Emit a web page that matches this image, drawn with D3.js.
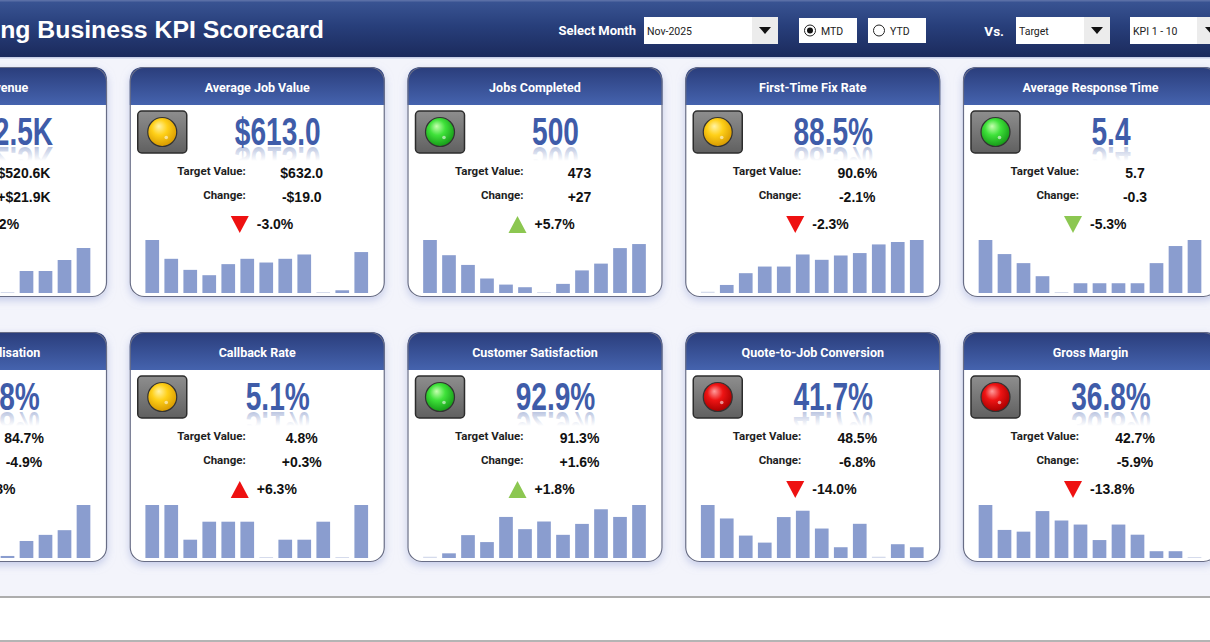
<!DOCTYPE html>
<html>
<head>
<meta charset="utf-8">
<script src="https://cdn.jsdelivr.net/npm/d3@7"></script>
<style>
html, body { margin: 0; padding: 0; background: #fff; overflow: hidden; }
svg { display: block; font-family: Roboto, "Liberation Sans", sans-serif; }
.lbl { font-size: 11.5px; font-weight: 700; fill: #1e1e1e; }
.val { font-size: 14px; font-weight: 700; fill: #111; font-family: "Liberation Sans", Arial, sans-serif; }
</style>
</head>
<body>
<svg id="board" width="1210" height="642"></svg>
<script>
// KPI cards, read left to right, top row first
var kpiNames = ["Monthly Revenue", "Average Job Value", "Jobs Completed", "First-Time Fix Rate", "Average Response Time",
                "Technician Utilisation", "Callback Rate", "Customer Satisfaction", "Quote-to-Job Conversion", "Gross Margin"];
var actualText = ["$542.5K", "$613.0", "500", "88.5%", "5.4", "79.8%", "5.1%", "92.9%", "41.7%", "36.8%"];
var targetText = ["$520.6K", "$632.0", "473", "90.6%", "5.7", "84.7%", "4.8%", "91.3%", "48.5%", "42.7%"];
var changeText = ["+$21.9K", "-$19.0", "+27", "-2.1%", "-0.3", "-4.9%", "+0.3%", "+1.6%", "-6.8%", "-5.9%"];
var changePct = [4.2, -3.0, 5.7, -2.3, -5.3, -5.8, 6.3, 1.8, -14.0, -13.8];
var lampColour = ["green", "yellow", "green", "yellow", "green", "red", "yellow", "green", "red", "red"];
var lowerIsBetter = [false, false, false, false, true, false, true, false, false, false];

// monthly trend bars (no axis on the picture, so relative heights)
var months = ["Jan", "Feb", "Mar", "Apr", "May", "Jun", "Jul", "Aug", "Sep", "Oct", "Nov", "Dec"];
var trendRevenue = [53, 40, 31, 19, 12, 8, 5, 1, 22, 22, 33, 45];
var trendJobValue = [52.7, 34, 23, 17.7, 28.7, 34, 30.3, 34, 38.3, 0.8, 2.7, 40.7];
var trendJobs = [52.3, 37.3, 27.7, 14.3, 8.3, 5.7, 0.7, 9, 22.3, 29, 44.3, 48.3];
var trendFixRate = [1.3, 8, 19.7, 26.3, 26.3, 38.3, 33, 37.3, 39.7, 48.3, 50.7, 52.7];
var trendResponse = [52.7, 38.7, 29.7, 16.7, 1, 9.7, 9.7, 9.7, 9.7, 29.7, 46.7, 52.7];
var trendUtilisation = [38, 45, 30, 24, 12, 20, 9, 2, 16.7, 22.7, 27.3, 52];
var trendCallback = [53, 53, 18.3, 36.3, 36.3, 36.3, 1, 18.3, 18.3, 36.3, 1, 53];
var trendSatisfaction = [1.3, 4.7, 23, 16, 41.3, 29, 36.7, 23.3, 34.3, 49, 41.3, 53.3];
var trendConversion = [52.7, 39.3, 22.3, 15.3, 40.7, 47, 29.3, 10.7, 34, 1.3, 13.7, 10.7];
var trendMargin = [52.3, 27.7, 26, 46.3, 37, 33, 17.7, 33, 23, 6.7, 6.7, 1];
var trends = [trendRevenue, trendJobValue, trendJobs, trendFixRate, trendResponse,
              trendUtilisation, trendCallback, trendSatisfaction, trendConversion, trendMargin];

var svg = d3.select("#board");
var defs = svg.append("defs");

function vGrad(id, stops) {
	var g = defs.append("linearGradient").attr("id", id).attr("x1", 0).attr("y1", 0).attr("x2", 0).attr("y2", 1);
	stops.forEach(function(s){ g.append("stop").attr("offset", s[0]).attr("stop-color", s[1]); });
}
vGrad("bandGrad", [[0, "#3a5594"], [0.45, "#283f7b"], [1, "#1b2a5c"]]);
vGrad("headGrad", [[0, "#2a3d7b"], [1, "#4563ae"]]);
vGrad("lampBox", [[0, "#8e8e8e"], [1, "#606060"]]);

var lampStops = {
	yellow: ["#fff3a6", "#ffd018", "#d89a00"],
	green: ["#c6ffb0", "#3fe23a", "#169a18"],
	red: ["#ff9c9c", "#ee1414", "#a80000"]
};
Object.keys(lampStops).forEach(function(k){
	var rg = defs.append("radialGradient").attr("id", "lamp-" + k).attr("cx", "45%").attr("cy", "40%").attr("r", "60%").attr("fx", "38%").attr("fy", "30%");
	rg.append("stop").attr("offset", 0).attr("stop-color", lampStops[k][0]);
	rg.append("stop").attr("offset", 0.45).attr("stop-color", lampStops[k][1]);
	rg.append("stop").attr("offset", 1).attr("stop-color", lampStops[k][2]);
});

// fading reflection under the big numbers, in the flipped text's own space
var refl = defs.append("linearGradient").attr("id", "reflect").attr("gradientUnits", "userSpaceOnUse")
	.attr("x1", 0).attr("y1", 0).attr("x2", 0).attr("y2", -14);
refl.append("stop").attr("offset", 0).attr("stop-color", "#3f5ca9").attr("stop-opacity", 0.35);
refl.append("stop").attr("offset", 1).attr("stop-color", "#3f5ca9").attr("stop-opacity", 0);

var shadow = defs.append("filter").attr("id", "shadow").attr("x", "-10%").attr("y", "-10%").attr("width", "120%").attr("height", "125%");
shadow.append("feDropShadow").attr("dx", 0).attr("dy", 3).attr("stdDeviation", 4)
	.attr("flood-color", "#9aa6d8").attr("flood-opacity", 0.55);

// page background
svg.append("rect").attr("y", 57).attr("width", 1210).attr("height", 540).attr("fill", "#f3f4fb");
svg.append("rect").attr("y", 57).attr("width", 1210).attr("height", 1.5).attr("fill", "#c8cee6");
svg.append("rect").attr("y", 596).attr("width", 1210).attr("height", 2).attr("fill", "#adadad");
svg.append("rect").attr("y", 640).attr("width", 1210).attr("height", 2).attr("fill", "#b4b4b4");

// title band
var head = svg.append("g");
head.append("rect").attr("width", 1210).attr("height", 57).attr("fill", "url(#bandGrad)");
head.append("rect").attr("width", 1210).attr("height", 1.5).attr("fill", "#5a6fa6");
head.append("text").attr("x", 324).attr("y", 38).attr("text-anchor", "end")
	.attr("font-family", "'Liberation Sans', Arial, sans-serif")
	.attr("font-size", 24.8).attr("font-weight", 700).attr("fill", "#fff").text("Plumbing Business KPI Scorecard");
head.append("text").attr("x", 636).attr("y", 35).attr("text-anchor", "end")
	.attr("font-size", 13).attr("font-weight", 700).attr("fill", "#fff").text("Select Month");
head.append("text").attr("x", 1004).attr("y", 36).attr("text-anchor", "end")
	.attr("font-size", 13.5).attr("font-weight", 700).attr("fill", "#fff").text("Vs.");

function dropdown(x, w, arrowW, label) {
	var d = head.append("g").attr("transform", "translate(" + x + ",17)");
	d.append("rect").attr("width", w).attr("height", 27).attr("fill", "#fff");
	d.append("rect").attr("x", w - arrowW).attr("width", arrowW).attr("height", 27).attr("fill", "#ececec");
	var cx = w - arrowW / 2;
	d.append("path").attr("d", "M" + (cx - 6) + ",10 L" + (cx + 6) + ",10 L" + cx + ",17 Z").attr("fill", "#111");
	d.append("text").attr("x", 3).attr("y", 18).attr("font-size", 10.5).attr("fill", "#222").text(label);
}
dropdown(644, 134, 26, "Nov-2025");
dropdown(1016, 94, 26, "Target");
dropdown(1130, 95, 28, "KPI 1 - 10");

function radio(x, label, on) {
	var r = head.append("g").attr("transform", "translate(" + x + ",18)");
	r.append("rect").attr("width", 58).attr("height", 25).attr("fill", "#fff");
	r.append("circle").attr("cx", 11).attr("cy", 12.5).attr("r", 5.5).attr("fill", "#fff").attr("stroke", "#222").attr("stroke-width", 1);
	if (on) r.append("circle").attr("cx", 11).attr("cy", 12.5).attr("r", 3).attr("fill", "#111");
	r.append("text").attr("x", 22).attr("y", 16.5).attr("font-size", 10.5).attr("fill", "#222").text(label);
}
radio(799, "MTD", true);
radio(868, "YTD", false);

// cards
var colX = d3.scaleLinear().domain([0, 4]).range([-148, 963]);
var rowY = d3.scaleLinear().domain([0, 1]).range([67, 332]);
var cardW = 255, cardH = 230, headH = 38, rad = 14;
function pctFmt(v) { return (v < 0 ? "-" : "+") + Math.abs(v).toFixed(1) + "%"; }

kpiNames.forEach(function(name, i){
	var g = svg.append("g").attr("transform", "translate(" + colX(i % 5) + "," + rowY(Math.floor(i / 5)) + ")");

	g.append("rect").attr("width", cardW).attr("height", cardH).attr("rx", rad)
		.attr("fill", "#fff").attr("filter", "url(#shadow)");
	g.append("path")
		.attr("d", "M0," + headH + " V" + rad + " Q0,0 " + rad + ",0 H" + (cardW - rad) + " Q" + cardW + ",0 " + cardW + "," + rad + " V" + headH + " Z")
		.attr("fill", "url(#headGrad)");
	g.append("rect").attr("x", 0.5).attr("y", 0.5).attr("width", cardW - 1).attr("height", cardH - 1).attr("rx", rad)
		.attr("fill", "none").attr("stroke", "#686d86").attr("stroke-width", 1.2);
	g.append("text").attr("x", cardW / 2).attr("y", 24.5).attr("text-anchor", "middle")
		.attr("font-size", 12.5).attr("font-weight", 700).attr("fill", "#fff").text(name);

	// status lamp
	g.append("rect").attr("x", 8).attr("y", 44).attr("width", 49).attr("height", 42).attr("rx", 4)
		.attr("fill", "url(#lampBox)").attr("stroke", "#2c2c2c").attr("stroke-width", 1.5);
	g.append("circle").attr("cx", 32.5).attr("cy", 65).attr("r", 14.5)
		.attr("fill", "url(#lamp-" + lampColour[i] + ")").attr("stroke", "#333").attr("stroke-width", 1.2);
	g.append("circle").attr("cx", 36.5).attr("cy", 70.5).attr("r", 1.8).attr("fill", "#fff").attr("opacity", 0.55);

	// big value with reflection
	var big = g.append("g").attr("transform", "translate(148,78)");
	big.append("text").attr("transform", "scale(0.74,1)").attr("text-anchor", "middle")
		.attr("font-family", "'Liberation Sans', Arial, sans-serif").attr("font-size", 38).attr("font-weight", 700)
		.attr("fill", "#3f5ca9").text(actualText[i]);
	big.append("text").attr("transform", "translate(0,2) scale(0.74,-1)").attr("text-anchor", "middle")
		.attr("font-family", "'Liberation Sans', Arial, sans-serif").attr("font-size", 38).attr("font-weight", 700)
		.attr("fill", "url(#reflect)").text(actualText[i]);

	g.append("text").attr("class", "lbl").attr("x", 116).attr("y", 108).attr("text-anchor", "end").text("Target Value:");
	g.append("text").attr("class", "val").attr("x", 172).attr("y", 111).attr("text-anchor", "middle").text(targetText[i]);
	g.append("text").attr("class", "lbl").attr("x", 116).attr("y", 132).attr("text-anchor", "end").text("Change:");
	g.append("text").attr("class", "val").attr("x", 172).attr("y", 135).attr("text-anchor", "middle").text(changeText[i]);

	var up = changePct[i] >= 0;
	var good = lowerIsBetter[i] ? !up : up;
	var tri = up ? "M101,166 L110,149 L119,166 Z" : "M101,149 L119,149 L110,166 Z";
	g.append("path").attr("d", tri).attr("fill", good ? "#8cc751" : "#ee1111");
	g.append("text").attr("class", "val").attr("x", 127).attr("y", 162).text(pctFmt(changePct[i]));

	// trend bars
	var data = trends[i];
	var x = d3.scaleBand().domain(months).range([13, 241]).paddingInner(0.28).paddingOuter(0.14);
	var y = d3.scaleLinear().domain([0, d3.max(data)]).range([226, 173]);
	g.selectAll("rect.bar").data(data).join("rect").attr("class", "bar")
		.attr("x", function(d, j){ return x(months[j]); })
		.attr("y", function(d){ return Math.min(y(d), 225); })
		.attr("width", x.bandwidth())
		.attr("height", function(d){ return Math.max(226 - y(d), 1); })
		.attr("fill", function(d){ return d < 1.5 ? "#d5dbec" : "#8a9dcf"; });
});
</script>
</body>
</html>
